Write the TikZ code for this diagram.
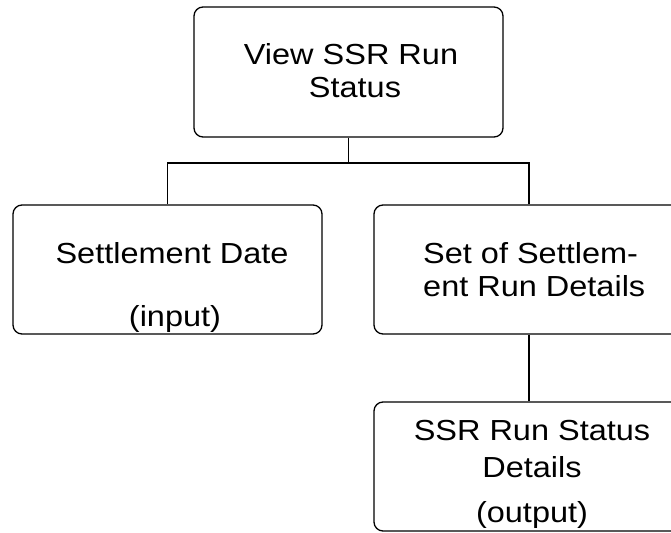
\documentclass[tikz,border=0pt]{standalone}
\usepackage{fontspec}
\setmainfont{Liberation Sans}
\newfontfamily\boxfont[FakeStretch=1.12]{Liberation Sans}
\begin{document}
\begin{tikzpicture}[x=1pt,y=-1pt,
  box/.style={draw=black, line width=1.3pt, rounded corners=9pt, inner sep=0pt, minimum width=309pt, minimum height=129pt},
  lbl/.style={font=\boxfont\fontsize{29}{33}\selectfont, anchor=base, inner sep=0pt},
  lblw/.style={lbl, anchor=base west},
  conn/.style={draw=black, line width=1.3pt}]
\useasboundingbox (0,0) rectangle (671,532);
\node[box, minimum height=130pt] (top) at (348.5,72) {};
\node[box] (left) at (167.5,269.5) {};
\node[box, minimum width=310pt] (right) at (529,269.5) {};
\node[box, minimum width=310pt] (bottom) at (529,466.5) {};
\coordinate (bus) at (0,163);
\draw[conn] (top.south) -- (top.south |- bus);
\draw[conn] (left.north) -- (left.north |- bus) -| (right.north);
\draw[conn] (right.south) -- (bottom.north);
\node[lbl] (t1) at (351,65) {View SSR Run};
\node[lbl] (t2) at (355,98) {Status};
\node[lbl] (l1) at (172,263) {Settlement Date};
\node[lbl] (l2) at (175,326) {(input)};
\node[lblw] (r1) at (423,263) {Set of Settlem-};
\node[lblw] (r2) at (423,296) {ent Run Details};
\node[lbl] (b1) at (532,440) {SSR Run Status};
\node[lbl] (b2) at (532,477) {Details};
\node[lbl] (b3) at (532,522) {(output)};
\end{tikzpicture}
\end{document}
